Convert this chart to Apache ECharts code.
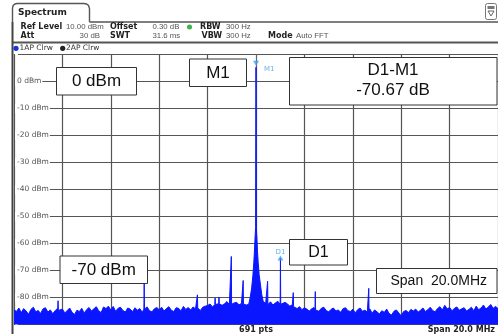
<!DOCTYPE html>
<html>
<head>
<meta charset="utf-8">
<script src="https://cdn.jsdelivr.net/npm/echarts@6/dist/echarts.min.js"></script>
<style>
  html, body { margin: 0; padding: 0; background: #fff; }
  #chart { width: 498px; height: 334px; }
</style>
</head>
<body>
<div id="chart"></div>
<script>
// Frequency offset from centre (MHz) and level axis (dBm)
const spanMHz = [-10, 10];
const levelRange = [-90, 10];
const levelStep = 10;
const hiddenLevelLabels = [10, -90];

// Noise floor, one reading every 0.1 MHz from -10 MHz (null where the carrier skirt is)
const noiseStartMHz = -10;
const noiseStepMHz = 0.1;
const noiseLevels = [
  -84.5,-85.2,-83.9,-85.6,-84.1,-85.0,-86.2,-84.4,-83.6,-85.3,-84.8,-85.9,-84.2,-83.8,-85.4,-84.6,-86.0,-84.9,-84.0,-85.1,
  -84.3,-85.7,-84.8,-83.9,-85.5,-86.3,-84.7,-85.2,-84.0,-85.8,-84.5,-83.7,-85.0,-84.2,-83.4,-84.9,-85.6,-83.5,-84.1,-83.2,
  -84.6,-83.3,-85.1,-84.0,-83.6,-84.8,-85.4,-83.9,-84.3,-85.2,-83.8,-84.7,-84.1,-85.5,-84.4,-83.5,-84.9,-85.3,-84.2,-83.7,
  -84.5,-83.6,-85.0,-84.1,-83.4,-84.7,-85.2,-83.8,-84.0,-84.9,-83.3,-84.4,-83.7,-84.6,-83.5,-84.2,-83.9,-84.8,-83.6,-83.2,
  -83.0,-82.4,-83.5,-82.1,-82.8,-81.7,-82.9,-82.3,-81.5,-82.6,-83.1,-82.0,-81.8,-82.7,-82.2,-81.9,
  -82.8,null,null,null,null,null,null,null,-82.1,
  -82.3,-81.6,-82.8,-82.0,-81.4,-82.5,-83.0,-81.8,-82.4,-83.2,-82.7,-83.6,-84.1,-83.4,-84.5,-83.8,-84.3,-85.0,-84.2,-83.7,
  -84.6,-85.1,-84.0,-83.6,-84.8,-85.3,-84.4,-83.9,-85.0,-84.6,-85.5,-84.1,-83.8,-84.9,-85.2,-84.3,-85.7,-84.5,-83.9,-85.1,
  -84.7,-85.4,-84.2,-85.8,-84.6,-85.3,-86.1,-84.9,-85.5,-84.3,-85.9,-86.5,-85.1,-84.6,-85.7,-86.8,-85.2,-84.8,-85.6,-84.4,
  -85.0,-84.3,-85.4,-84.7,-83.9,-85.2,-84.5,-83.6,-84.8,-85.3,-84.1,-83.4,-84.6,-82.9,-84.2,-83.7,-84.9,-84.0,-83.5,-84.7,
  -84.2,-83.8,-85.0,-84.4,-83.6,-84.9,-83.2,-84.5,-83.9,-82.8,-84.3,-83.5,-82.6,-84.0,-83.3,-84.1
];

// Carrier and its skirt around the centre frequency
const carrierFreqs  = [-0.30,-0.24,-0.18,-0.13,-0.09,-0.06,-0.035,-0.015, 0.00, 0.015, 0.035, 0.06, 0.09, 0.13, 0.18, 0.24, 0.30];
const carrierLevels = [-82.5,-80.0,-76.5,-72.0,-67.0,-62.0,-57.0, -54.0,  5.27,-54.5, -57.5, -62.5,-67.0,-71.5,-75.0,-79.0,-81.5];

// Discrete spurs: centre frequency, peak level and the floor they rise from
const spurFreqs      = [-8.18,-4.62,-2.42,-1.69,-1.53,-1.02,-0.53, 0.48, 1.01, 1.54, 2.45, 4.66];
const spurLevels     = [-81.2,-75.0,-79.0,-80.2,-79.8,-64.8,-73.7,-74.0,-65.40,-78.2,-77.8,-76.6];
const spurBaseLevels = [-84.8,-84.3,-83.9,-82.6,-82.3,-82.5,-82.4,-82.6,-82.5,-83.4,-84.6,-85.2];
const spurHalfWidthMHz = 0.012;

// Markers
const markerNames = ['M1', 'D1'];
const markerFreqs = [0.00, 1.01];

// Trace assembled from the arrays above, sorted by frequency
const trace = [];
noiseLevels.forEach((v, i) => {
  if (v !== null) trace.push([+(noiseStartMHz + i * noiseStepMHz).toFixed(2), v]);
});
carrierFreqs.forEach((f, i) => trace.push([f, carrierLevels[i]]));
spurFreqs.forEach((f, i) => {
  trace.push([f - spurHalfWidthMHz, spurBaseLevels[i]]);
  trace.push([f, spurLevels[i]]);
  trace.push([f + spurHalfWidthMHz, spurBaseLevels[i]]);
});
trace.sort((a, b) => a[0] - b[0]);

const levelAt = f => trace.find(p => Math.abs(p[0] - f) < 1e-9)[1];
const markerLevels = markerFreqs.map(levelAt);
const deltaDb = (markerLevels[1] - markerLevels[0]).toFixed(2);

const chart = echarts.init(document.getElementById('chart'), null, { renderer: 'canvas' });

const markerBlue = '#3b9ef0';
const traceBlue = '#0a16ff';
const gridColor = '#555';

function txt(text, x, y, o) {
  o = o || {};
  return {
    type: 'text', silent: true, z: o.z || 50,
    style: {
      text: text, x: x, y: y,
      fill: o.fill || '#222',
      fontSize: o.size || 8,
      fontFamily: o.family || 'DejaVu Sans',
      fontWeight: o.weight || 'normal',
      textAlign: o.align || 'left', align: o.align || 'left',
      textVerticalAlign: 'middle', verticalAlign: 'middle'
    }
  };
}
function box(x, y, w, h) {
  return {
    type: 'rect', silent: true, z: 40,
    shape: { x: x, y: y, width: w, height: h },
    style: { fill: '#fff', stroke: '#333', lineWidth: 1 }
  };
}
function hline(x1, x2, y, color, w) {
  return { type: 'line', silent: true, z: 45, shape: { x1: x1, y1: y, x2: x2, y2: y }, style: { stroke: color, lineWidth: w } };
}
function vline(x, y1, y2, color, w) {
  return { type: 'line', silent: true, z: 45, shape: { x1: x, y1: y1, x2: x, y2: y2 }, style: { stroke: color, lineWidth: w } };
}

const boxFont = 'Liberation Sans';
const labelFont = 'DejaVu Sans';
const valueStyle = { size: 7.8, family: 'Liberation Sans', fill: '#555' };
const withAlign = (o, align) => Object.assign({}, o, { align: align });

const graphics = [
  // window tab and frame
  { type: 'polyline', silent: true, z: 45,
    shape: { points: [[12.5, 22], [12.5, 8], [13.2, 5.5], [15, 4], [17, 3.5], [84, 3.5], [86.5, 4], [88.5, 5.5], [89.5, 8.5], [89.5, 22]] },
    style: { fill: 'none', stroke: '#555', lineWidth: 1.4 } },
  hline(89.5, 498, 22, '#555', 1.4),
  hline(12, 498, 42.5, '#555', 2),
  vline(12.5, 22, 334, '#444', 2),
  // top-right icon
  { type: 'rect', silent: true, z: 45, shape: { x: 485.5, y: 3.5, width: 11, height: 16, r: 2 },
    style: { fill: '#fff', stroke: '#777', lineWidth: 1 } },
  { type: 'rect', silent: true, z: 46, shape: { x: 487.5, y: 6, width: 7, height: 3 }, style: { fill: '#777' } },
  { type: 'polygon', silent: true, z: 46, shape: { points: [[488, 11], [494, 11], [491, 16]] },
    style: { fill: 'none', stroke: '#666', lineWidth: 1 } },

  txt('Spectrum', 18, 12.5, { size: 9, weight: 'bold', fill: '#222' }),

  // settings rows
  txt('Ref Level', 20.5, 27, { weight: 'bold' }),
  txt('10.00 dBm', 66, 27, valueStyle),
  txt('Offset', 110, 27, { weight: 'bold' }),
  txt('0.30 dB', 152.5, 27, valueStyle),
  { type: 'circle', silent: true, z: 46, shape: { cx: 189.5, cy: 27, r: 2.5 }, style: { fill: '#3db34a' } },
  txt('RBW', 200, 27, { weight: 'bold' }),
  txt('300 Hz', 226, 27, valueStyle),

  txt('Att', 20.5, 35.5, { weight: 'bold' }),
  txt('30 dB', 100, 35.5, withAlign(valueStyle, 'right')),
  txt('SWT', 110, 35.5, { weight: 'bold' }),
  txt('31.6 ms', 152.5, 35.5, valueStyle),
  txt('VBW', 201.5, 35.5, { weight: 'bold' }),
  txt('300 Hz', 226, 35.5, valueStyle),
  txt('Mode', 268, 35.5, { weight: 'bold' }),
  txt('Auto FFT', 296, 35.5, valueStyle),

  // trace legend row
  { type: 'circle', silent: true, z: 46, shape: { cx: 16, cy: 48.3, r: 2.6 }, style: { fill: '#1432e6' } },
  txt('1AP Clrw', 19.5, 48.3, { size: 7.5, fill: '#333' }),
  { type: 'circle', silent: true, z: 46, shape: { cx: 62.7, cy: 48.3, r: 2.6 }, style: { fill: '#222' } },
  txt('2AP Clrw', 66, 48.3, { size: 7.5, fill: '#333' }),

  // footer
  txt('691 pts', 256, 329.5, { weight: 'bold', align: 'center' }),
  txt('Span 20.0 MHz', 495, 329.5, { weight: 'bold', align: 'right' }),

  // annotation boxes
  box(56.5, 67.5, 80, 27.5),
  txt('0 dBm', 96.5, 81.5, { size: 17, family: boxFont, fill: '#111', align: 'center' }),
  box(189.5, 59, 57, 27.5),
  txt('M1', 218, 73, { size: 17, family: boxFont, fill: '#111', align: 'center' }),
  box(289.5, 57.5, 207.5, 47.5),
  txt('D1-M1', 393, 70.5, { size: 17, family: boxFont, fill: '#111', align: 'center' }),
  txt(deltaDb + ' dB', 393, 90, { size: 17, family: boxFont, fill: '#111', align: 'center' }),
  box(289.5, 239.5, 58, 25.5),
  txt('D1', 318.5, 252.5, { size: 16, family: boxFont, fill: '#111', align: 'center' }),
  box(60, 256, 87.5, 27.5),
  txt('-70 dBm', 103.7, 270, { size: 17, family: boxFont, fill: '#111', align: 'center' }),
  box(376.5, 268.5, 120.5, 25),
  txt('Span  20.0MHz', 390.5, 281.5, { size: 14, family: boxFont, fill: '#111' })
];

const option = {
  animation: false,
  backgroundColor: '#fff',
  grid: { left: 14, top: 54.5, width: 486.6, height: 270, containLabel: false },
  xAxis: {
    type: 'value', min: spanMHz[0], max: spanMHz[1], interval: 2,
    axisLine: { show: false }, axisTick: { show: false }, axisLabel: { show: false },
    splitLine: { show: true, lineStyle: { color: gridColor, width: 1.2 } }
  },
  yAxis: {
    type: 'value', min: levelRange[0], max: levelRange[1], interval: levelStep,
    axisLine: { show: true, lineStyle: { color: '#666', width: 1 } },
    axisTick: { show: false },
    splitLine: { show: true, lineStyle: { color: gridColor, width: 1.2 } },
    axisLabel: {
      inside: true, margin: 1,
      formatter: v => hiddenLevelLabels.includes(v) ? '' : v + ' dBm',
      color: '#555', fontSize: 7.5, fontFamily: labelFont,
      backgroundColor: '#fff', padding: [1, 1, 0, 2]
    }
  },
  series: [
    {
      type: 'line', data: trace, showSymbol: false, symbol: 'none', z: 5,
      lineStyle: { color: traceBlue, width: 1 },
      areaStyle: { color: traceBlue, opacity: 1, origin: 'start' }
    },
    {
      type: 'scatter', z: 10, symbol: 'triangle', symbolSize: [6, 5],
      itemStyle: { color: markerBlue },
      label: { show: true, formatter: '{b}', color: markerBlue, fontSize: 7, fontFamily: labelFont },
      data: markerFreqs.map((f, i) => i === 0
        ? { name: markerNames[i], value: [f, markerLevels[i]], symbolRotate: 180, symbolOffset: [0, -4],
            label: { position: 'right', offset: [0, 5.5] } }
        : { name: markerNames[i], value: [f, markerLevels[i]],
            label: { position: 'top', distance: 0 } })
    }
  ],
  graphic: { elements: graphics }
};

chart.setOption(option);
</script>
</body>
</html>
